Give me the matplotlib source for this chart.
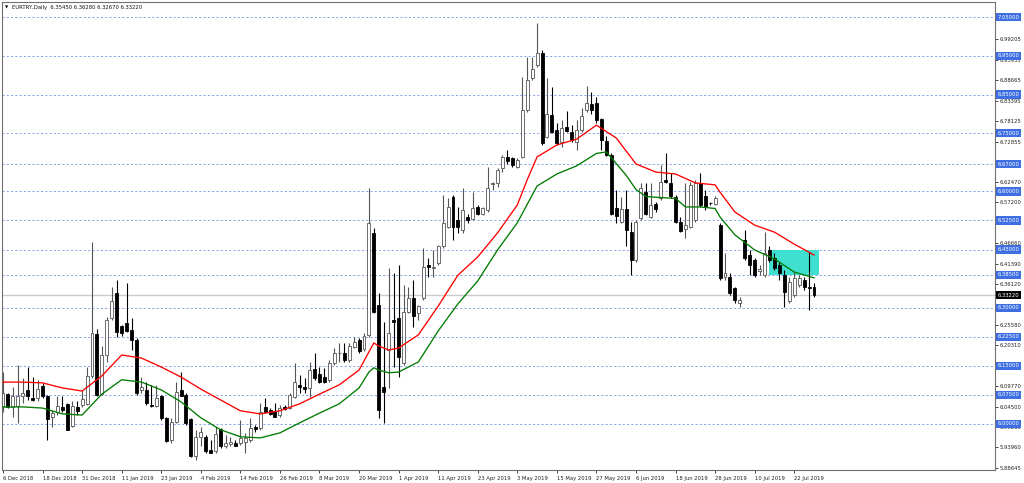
"""EURTRY daily candles with two moving averages and marked levels."""

import matplotlib

matplotlib.use("Agg")
import matplotlib.pyplot as plt
from matplotlib.patches import Rectangle
from matplotlib.transforms import blended_transform_factory

# one row per bar: open, high, low, close
opens = [
    6.045, 6.077, 6.045, 6.047, 6.071, 6.088, 6.066, 6.066, 6.098, 6.072,
    6.017, 6.032, 6.045, 6.051, 5.995, 6.045, 6.049, 6.051, 6.124, 6.231,
    6.077, 6.178, 6.273, 6.337, 6.253, 6.260, 6.243, 6.217, 6.088, 6.088,
    6.049, 6.046, 6.071, 6.015, 5.959, 6.006, 6.088, 6.075, 6.012, 5.917,
    5.967, 5.967, 5.933, 5.929, 5.986, 5.943, 5.947, 5.950, 5.950, 5.954,
    5.959, 5.991, 5.989, 6.045, 6.036, 6.032, 6.023, 6.045, 6.040, 6.070,
    6.101, 6.096, 6.092, 6.141, 6.129, 6.122, 6.113, 6.157, 6.182, 6.182,
    6.165, 6.199, 6.217, 6.193, 6.230, 6.492, 6.307, 6.096, 6.191, 6.268,
    6.273, 6.157, 6.290, 6.324, 6.286, 6.324, 6.410, 6.402, 6.415, 6.458,
    6.509, 6.586, 6.526, 6.500, 6.533, 6.530, 6.561, 6.543, 6.552, 6.619,
    6.621, 6.660, 6.690, 6.685, 6.664, 6.690, 6.810, 6.892, 6.926, 6.956,
    6.741, 6.797, 6.758, 6.728, 6.766, 6.754, 6.728, 6.758, 6.810, 6.825,
    6.829, 6.786, 6.730, 6.694, 6.556, 6.522, 6.554, 6.496, 6.423, 6.531,
    6.599, 6.535, 6.567, 6.582, 6.629, 6.623, 6.586, 6.522, 6.502, 6.509,
    6.526, 6.621, 6.587, 6.570, 6.567, 6.513, 6.380, 6.380, 6.350, 6.311,
    6.475, 6.436, 6.423, 6.395, 6.385, 6.449, 6.427, 6.410, 6.385, 6.316,
    6.333, 6.359, 6.371, 6.353, 6.3545,
]
highs = [
    6.135, 6.081, 6.096, 6.152, 6.118, 6.148, 6.122, 6.114, 6.105, 6.075,
    6.036, 6.071, 6.071, 6.055, 6.058, 6.058, 6.088, 6.148, 6.470, 6.244,
    6.200, 6.277, 6.354, 6.372, 6.255, 6.363, 6.273, 6.221, 6.122, 6.109,
    6.101, 6.101, 6.075, 6.019, 6.015, 6.109, 6.135, 6.079, 6.015, 5.985,
    5.993, 5.972, 5.959, 5.993, 5.989, 5.972, 5.967, 5.959, 6.010, 5.976,
    6.015, 5.997, 6.053, 6.066, 6.040, 6.053, 6.049, 6.049, 6.079, 6.158,
    6.126, 6.118, 6.161, 6.182, 6.148, 6.144, 6.165, 6.195, 6.208, 6.208,
    6.208, 6.225, 6.221, 6.234, 6.608, 6.505, 6.337, 6.264, 6.402, 6.389,
    6.410, 6.359, 6.354, 6.371, 6.307, 6.453, 6.428, 6.449, 6.462, 6.591,
    6.582, 6.591, 6.561, 6.608, 6.543, 6.599, 6.565, 6.561, 6.664, 6.625,
    6.660, 6.694, 6.707, 6.690, 6.685, 6.896, 6.948, 6.948, 7.034, 6.965,
    6.892, 6.870, 6.776, 6.784, 6.808, 6.771, 6.784, 6.814, 6.872, 6.857,
    6.843, 6.789, 6.743, 6.698, 6.604, 6.586, 6.604, 6.522, 6.526, 6.623,
    6.621, 6.621, 6.573, 6.668, 6.698, 6.647, 6.591, 6.535, 6.621, 6.625,
    6.629, 6.647, 6.604, 6.574, 6.587, 6.518, 6.440, 6.389, 6.354, 6.328,
    6.500, 6.449, 6.427, 6.410, 6.496, 6.458, 6.440, 6.419, 6.397, 6.380,
    6.393, 6.385, 6.380, 6.444, 6.3628,
]
lows = [
    6.032, 6.041, 6.019, 6.002, 6.053, 6.062, 6.058, 6.058, 6.066, 5.959,
    5.993, 6.023, 6.032, 5.984, 5.993, 6.023, 6.045, 6.049, 6.118, 6.071,
    6.075, 6.161, 6.268, 6.225, 6.227, 6.238, 6.191, 6.075, 6.079, 6.049,
    6.045, 6.045, 6.010, 5.954, 5.950, 6.002, 6.071, 5.997, 5.916, 5.907,
    5.942, 5.924, 5.924, 5.926, 5.937, 5.937, 5.943, 5.942, 5.946, 5.924,
    5.954, 5.980, 5.985, 6.027, 6.023, 6.017, 6.019, 6.036, 6.038, 6.066,
    6.079, 6.079, 6.070, 6.113, 6.105, 6.105, 6.109, 6.152, 6.161, 6.161,
    6.161, 6.195, 6.182, 6.189, 6.225, 6.286, 6.015, 6.002, 6.093, 6.148,
    6.122, 6.152, 6.286, 6.251, 6.268, 6.320, 6.380, 6.380, 6.410, 6.453,
    6.505, 6.475, 6.492, 6.492, 6.518, 6.526, 6.539, 6.539, 6.548, 6.604,
    6.612, 6.651, 6.672, 6.664, 6.660, 6.685, 6.806, 6.888, 6.922, 6.720,
    6.737, 6.750, 6.720, 6.715, 6.754, 6.728, 6.707, 6.754, 6.806, 6.801,
    6.776, 6.707, 6.691, 6.539, 6.518, 6.518, 6.458, 6.384, 6.419, 6.526,
    6.539, 6.531, 6.548, 6.578, 6.621, 6.582, 6.518, 6.496, 6.479, 6.505,
    6.522, 6.561, 6.552, 6.565, 6.565, 6.371, 6.371, 6.333, 6.311, 6.303,
    6.423, 6.385, 6.380, 6.385, 6.380, 6.419, 6.397, 6.371, 6.303, 6.311,
    6.328, 6.354, 6.346, 6.295, 6.3267,
]
closes = [
    6.081, 6.045, 6.072, 6.071, 6.079, 6.072, 6.062, 6.089, 6.071, 6.012,
    6.028, 6.047, 6.036, 5.985, 6.046, 6.034, 6.064, 6.124, 6.234, 6.075,
    6.178, 6.268, 6.317, 6.236, 6.234, 6.241, 6.217, 6.079, 6.096, 6.053,
    6.046, 6.066, 6.015, 5.957, 6.006, 6.082, 6.071, 6.002, 5.917, 5.967,
    5.978, 5.929, 5.926, 5.974, 5.942, 5.950, 5.954, 5.943, 5.963, 5.963,
    5.990, 5.986, 6.032, 6.032, 6.026, 6.019, 6.040, 6.038, 6.075, 6.109,
    6.096, 6.089, 6.138, 6.118, 6.109, 6.109, 6.157, 6.182, 6.184, 6.165,
    6.200, 6.212, 6.187, 6.227, 6.518, 6.290, 6.036, 6.083, 6.234, 6.264,
    6.174, 6.290, 6.324, 6.279, 6.305, 6.404, 6.404, 6.406, 6.458, 6.518,
    6.561, 6.509, 6.507, 6.552, 6.526, 6.556, 6.543, 6.556, 6.608, 6.621,
    6.655, 6.690, 6.679, 6.668, 6.681, 6.810, 6.888, 6.915, 6.956, 6.724,
    6.801, 6.754, 6.724, 6.763, 6.757, 6.733, 6.758, 6.795, 6.827, 6.810,
    6.784, 6.733, 6.694, 6.543, 6.537, 6.554, 6.500, 6.423, 6.522, 6.608,
    6.543, 6.565, 6.554, 6.625, 6.625, 6.587, 6.522, 6.499, 6.513, 6.617,
    6.621, 6.565, 6.561, 6.569, 6.582, 6.376, 6.389, 6.337, 6.320, 6.320,
    6.427, 6.410, 6.385, 6.400, 6.440, 6.423, 6.402, 6.389, 6.341, 6.367,
    6.376, 6.376, 6.354, 6.351, 6.3322,
]

date_labels = [
    "6 Dec 2018", "18 Dec 2018", "31 Dec 2018", "11 Jan 2019", "23 Jan 2019",
    "4 Feb 2019", "14 Feb 2019", "26 Feb 2019", "8 Mar 2019", "20 Mar 2019",
    "1 Apr 2019", "11 Apr 2019", "23 Apr 2019", "3 May 2019", "15 May 2019",
    "27 May 2019", "6 Jun 2019", "18 Jun 2019", "28 Jun 2019", "10 Jul 2019",
    "22 Jul 2019",
]
label_every = 8

# moving averages at these bars
red_bars = [0, 4, 8, 12, 16, 20, 24, 28, 32, 36, 40, 44, 48, 52, 56, 60, 64, 68, 72,
            74, 75, 76, 78, 80, 84, 88, 92, 96, 100, 104, 106, 108, 112, 116, 120,
            124, 128, 132, 136, 140, 144, 145, 148, 152, 156, 160, 164]
red_ma = [6.108, 6.108, 6.106, 6.093, 6.085, 6.124, 6.178, 6.170, 6.147, 6.121,
          6.090, 6.062, 6.034, 6.026, 6.034, 6.052, 6.077, 6.101, 6.139,
          6.186, 6.209, 6.201, 6.191, 6.196, 6.230, 6.304, 6.384, 6.431, 6.493,
          6.565, 6.630, 6.689, 6.720, 6.735, 6.771, 6.738, 6.671, 6.650, 6.645,
          6.622, 6.617, 6.598, 6.547, 6.513, 6.495, 6.464, 6.436]
green_bars = [0, 4, 8, 12, 16, 20, 24, 28, 32, 36, 40, 44, 48, 52, 56, 60, 64, 68, 72,
              74, 75, 76, 78, 80, 84, 88, 92, 96, 100, 104, 108, 112, 116, 120, 122,
              124, 126, 128, 130, 132, 136, 138, 141, 144, 145, 148, 152, 156, 160, 164]
green_ma = [6.044, 6.044, 6.041, 6.026, 6.023, 6.077, 6.114, 6.108, 6.088, 6.057,
            6.016, 5.985, 5.967, 5.964, 5.977, 6.003, 6.028, 6.052, 6.093,
            6.134, 6.145, 6.139, 6.132, 6.134, 6.160, 6.240, 6.310, 6.369, 6.449,
            6.519, 6.614, 6.645, 6.666, 6.698, 6.702, 6.672, 6.642, 6.605, 6.587,
            6.585, 6.582, 6.560, 6.560, 6.556, 6.534, 6.488, 6.449, 6.426, 6.392,
            6.377]

level_lines = [7.05, 6.95, 6.85, 6.75, 6.67, 6.60, 6.525, 6.45, 6.385, 6.30,
               6.225, 6.15, 6.075, 6.00]
scale_ticks = [7.04475, 6.99205, 6.93935, 6.88665, 6.83395, 6.78125, 6.72855,
               6.67740, 6.62470, 6.57200, 6.51930, 6.46660, 6.41390, 6.36120,
               6.30850, 6.25580, 6.20310, 6.15040, 6.09770, 6.04500, 5.99230,
               5.93960, 5.88645]
# labels that sit fully under a level box are not visible in the chart
scale_labels = ["", "6.99205", "6.93935", "6.88665", "6.83395", "6.78125", "6.72855",
                "", "6.62470", "6.57200", "", "6.46660", "6.41390", "6.36120",
                "", "6.25580", "6.20310", "", "6.09770", "6.04500", "5.99230",
                "5.93960", "5.88645"]
last_price = 6.3322
zone_bars = (155, 165)
zone_prices = (6.385, 6.45)
header = "EURTRY,Daily  6.35450 6.36280 6.32670 6.33220"

FONT = 3.8
BLUE = "#3d6fe3"


def draw_candles(ax):
    for i, (o, h, l, c) in enumerate(zip(opens, highs, lows, closes)):
        up = c >= o
        edge = "#555555" if up else "black"
        ax.vlines(i, l, h, color=edge, lw=0.8, zorder=3)
        body = max(abs(c - o), 0.0015)
        ax.bar(i, body, bottom=min(o, c), width=0.6,
               color="white" if up else "black", edgecolor=edge, lw=0.6, zorder=4)


def main():
    fig = plt.figure(figsize=(10.24, 4.83), dpi=100)
    ax = fig.add_axes([2 / 1024, 13 / 483, 993 / 1024, 468 / 483])
    ax.set_facecolor("white")

    for lvl in level_lines:
        ax.axhline(lvl, color="#8aa3ef", lw=0.7, ls=(0, (2.2, 2.2)), zorder=1)
    ax.axhline(last_price, color="#cccccc", lw=1.0, zorder=1)

    ax.add_patch(Rectangle((zone_bars[0], zone_prices[0]), zone_bars[1] - zone_bars[0],
                           zone_prices[1] - zone_prices[0], color="#40e0d0", lw=0, zorder=2))

    draw_candles(ax)
    ax.plot(red_bars, red_ma, color="#ff0000", lw=0.95, zorder=5)
    ax.plot(green_bars, green_ma, color="#007a00", lw=0.95, zorder=5)

    ax.set_xlim(-0.2, 200.6)
    ax.set_ylim(5.8812, 7.0888)

    ax.yaxis.tick_right()
    ax.set_yticks(scale_ticks)
    ax.set_yticklabels(scale_labels)
    ax.tick_params(axis="y", length=2, width=0.6, pad=1, labelsize=FONT, colors="#222222")
    ax.set_xticks(range(0, label_every * len(date_labels), label_every))
    ax.set_xticklabels(date_labels)
    ax.tick_params(axis="x", length=2, width=0.6, pad=2, labelsize=FONT, colors="#222222")
    plt.setp(ax.get_xticklabels(), ha="left")

    for side in ("left", "right", "top", "bottom"):
        ax.spines[side].set_color("#707070")
        ax.spines[side].set_linewidth(0.8)

    trans = blended_transform_factory(ax.transAxes, ax.transData)
    for lvl in level_lines:
        ax.text(1.0025, lvl, f"{lvl:.5f}", transform=trans, fontsize=FONT, color="white",
                va="center", ha="left", clip_on=False, zorder=10,
                bbox=dict(boxstyle="square,pad=0.3", fc=BLUE, ec="none"))
    ax.text(1.0025, last_price, f"{last_price:.5f}", transform=trans, fontsize=FONT,
            color="white", va="center", ha="left", clip_on=False, zorder=11,
            bbox=dict(boxstyle="square,pad=0.3", fc="black", ec="none"))

    ax.text(0.003, 0.992, "\u25bc", transform=ax.transAxes, fontsize=3, va="top", ha="left")
    ax.text(0.010, 0.993, header, transform=ax.transAxes, fontsize=FONT, va="top", ha="left",
            color="#111111")

    fig.savefig("out.png", dpi=100)
    plt.close(fig)


if __name__ == "__main__":
    main()
